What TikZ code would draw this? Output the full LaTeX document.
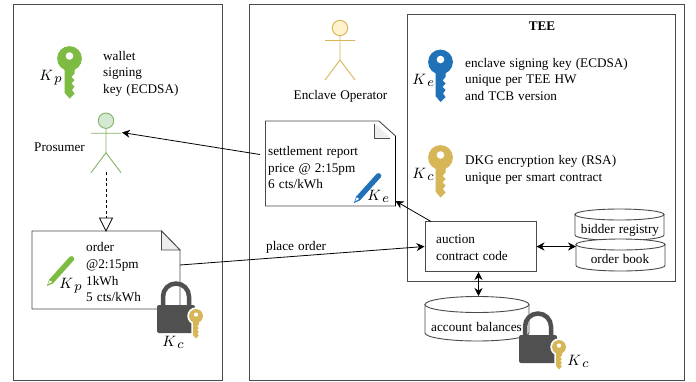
\documentclass[tikz,border=0pt]{standalone}
\usepackage{fontspec}
\setmainfont[WordSpace=1.25]{Liberation Serif}
\usetikzlibrary{arrows.meta,calc}
\definecolor{kgreen}{HTML}{7DBB42}
\definecolor{kblue}{HTML}{1F71B8}
\definecolor{kgold}{HTML}{D6B656}
\definecolor{figgreen}{HTML}{82B366}
\definecolor{figgreenfill}{HTML}{D5E8D4}
\definecolor{figgold}{HTML}{FFF2CC}
\definecolor{boxgray}{HTML}{4A4A4A}
\definecolor{lockgray}{HTML}{505050}
\tikzset{
  panel/.style={draw=boxgray,line width=1pt},
  lbl/.style={anchor=base west,inner sep=0pt,font=\fontsize{13.2}{16.5}\selectfont,align=left},
  ctr/.style={anchor=base,inner sep=0pt,font=\fontsize{13.2}{16.5}\selectfont},
  mathlbl/.style={inner sep=0pt,scale=1.5,anchor=base west},
  docline/.style={draw=boxgray,line width=0.9pt,fill=white},
  conn/.style={draw=black,line width=0.8pt,-{Stealth[length=8pt,width=8pt]}},
  biconn/.style={draw=black,line width=0.8pt,{Stealth[length=8pt,width=8pt]}-{Stealth[length=8pt,width=8pt]}},
}
\newcommand{\ksub}[1]{$K_{\,\scalebox{1.25}{$\scriptstyle #1$}}$}
\newcommand{\keyicon}[4]{%
  \begin{scope}[shift={(#1,#2)},scale=#3]
    \fill[#4] (-5,8) -- (-5,34) -- (0,40) -- (5,35) -- (2.5,31.5) -- (5,28) -- (2,25) -- (5,21.5) -- (2,18.5) -- (5,15) -- (5,8) -- cycle;
    \fill[#4] (0,0) circle[radius=12.4];
    \fill[white] (0,-2.5) circle[radius=3.8];
  \end{scope}}
\newcommand{\keyhalo}[3]{%
  \begin{scope}[shift={(#1,#2)},scale=#3]
    \draw[white,line width=3.5pt,fill=white] (0,0) circle[radius=12.4];
    \draw[white,line width=3.5pt,fill=white] (-5,8) -- (-5,34) -- (0,40) -- (5,35) -- (5,8) -- cycle;
  \end{scope}}
\newcommand{\pencilicon}[3]{%
  \begin{scope}[shift={(#1,#2)},rotate=48]
    \fill[#3] (0,0) -- (6,-2.7) -- (37,-2.7) -- (39,-1.3) -- (39,1.6) -- (37,2.7) -- (6,2.7) -- cycle;
    \fill[white] (2.2,-0.4) -- (6,-1.8) -- (6.5,1.2) -- cycle;
  \end{scope}}
\newcommand{\padlock}[2]{%
  \begin{scope}[shift={(#1,#2)}]
    \draw[lockgray,line width=4.5pt] (-13,28) -- (-13,15.5) arc[start angle=180,end angle=360,radius=13] -- (13,28);
    \fill[lockgray,rounded corners=2pt] (-19,24) rectangle (19,52);
  \end{scope}}
\newcommand{\stickfig}[4]{%
  \begin{scope}[shift={(#1,#2)}]
    \draw[#3,line width=0.9pt,fill=#4] (0,0) circle[radius=7.7];
    \draw[#3,line width=0.9pt] (0,7.7) -- (0,32) (-15,12.5) -- (15,12.5) (-15,52) -- (0,32) -- (15,52);
  \end{scope}}
\newcommand{\cylinder}[6]{%
  \path[docline] (#2,#3) -- (#2,#5)
     arc[start angle=180,end angle=0,x radius={(#4-#2)/2},y radius=#6] -- (#4,#3) -- cycle;
  \path[docline] ({(#2+#4)/2},#3) ellipse[x radius={(#4-#2)/2},y radius=#6];
  \coordinate (#1) at ({(#2+#4)/2},#3);
}
\begin{document}
\begin{tikzpicture}[x=1pt,y=-1pt]
\useasboundingbox (0,0) rectangle (696,381);
\fill[white] (0,0) rectangle (696,381);
% panels
\draw[panel] (13,4) rectangle (222,380);
\draw[panel] (249,4) rectangle (684,380);
\draw[panel] (407.5,14) rectangle (675,281.5);
\node[ctr,font=\fontsize{13.2}{16.5}\selectfont\bfseries] (teetitle) at (542,30) {TEE};

% left keys
\keyicon{69.5}{58.5}{1}{kgreen}
\node[mathlbl] (kp) at (39,80) {\ksub{p}};
\node[lbl] (wallet1) at (103,60) {wallet};
\node[lbl] (wallet2) at (103,76.5) {signing};
\node[lbl] (wallet3) at (103,93) {key (ECDSA)};

% prosumer
\stickfig{106}{120.7}{figgreen}{figgreenfill}
\node[lbl] (prosumer) at (34,151) {Prosumer};
\coordinate (prosarm) at (122,132.5);
\coordinate (prosfoot) at (106,172);

% order document
\path[docline] (32,231) -- (161.5,231) -- (180,250) -- (180,309) -- (32,309) -- cycle;
\path[draw=boxgray,line width=0.8pt,fill=black!7] (161.5,231) -- (161.5,250) -- (180,250) -- cycle;
\coordinate (ordertop) at (106,231);
\coordinate (orderright) at (180,265);
\node[lbl] (o1) at (86,251) {order};
\node[lbl] (o2) at (86,268) {@2:15pm};
\node[lbl] (o3) at (86,285) {1kWh};
\node[lbl] (o4) at (86,301) {5 cts/kWh};
\pencilicon{47}{286}{kgreen}
\node[mathlbl] (kpo) at (59,288) {\ksub{p}};
\padlock{176}{281}
\keyhalo{196}{316}{0.56}
\keyicon{196}{316}{0.56}{kgold}
\node[mathlbl] (kco) at (162,346) {\ksub{c}};

% generalization arrow
\draw[line width=0.8pt,dash pattern=on 3pt off 2.5pt] (prosfoot) -- ($(ordertop)+(0,-13)$);
\draw[line width=0.8pt,fill=white] (ordertop) -- ++(-6.5,-13) -- ++(13,0) -- cycle;

% enclave operator
\stickfig{340}{28}{kgold}{figgold}
\node[ctr] (operator) at (340.5,99) {Enclave Operator};

% settlement document
\path[docline] (265.5,121) -- (379,121) -- (395.5,136) -- (395.5,206) -- (265.5,206) -- cycle;
\fill[black!7] (375,124) -- (375,137.5) -- (390,137.5) -- cycle;
\draw[boxgray,line width=0.8pt] (374,123.5) -- (374,138) -- (389.5,138);
\draw[black,line width=0.8pt] (395.5,136) -- (395.5,206);
\node[lbl] (s1) at (268,155) {settlement report};
\node[lbl] (s2) at (268,172) {price @ 2:15pm};
\node[lbl] (s3) at (268,188) {6 cts/kWh};
\pencilicon{354}{203}{kblue}
\node[mathlbl] (kes) at (367,200.5) {\ksub{e}};
\coordinate (settleleft) at (260,154.5);
\coordinate (settlecorner) at (395.5,201);

% TEE keys
\keyicon{440.5}{62}{1}{kblue}
\node[mathlbl] (ke) at (412,84) {\ksub{e}};
\node[lbl] (e1) at (465,67) {enclave signing key (ECDSA)};
\node[lbl] (e2) at (465,83) {unique per TEE HW};
\node[lbl] (e3) at (465,100) {and TCB version};
\keyicon{440.5}{157.5}{1}{kgold}
\node[mathlbl] (kc) at (412,178) {\ksub{c}};
\node[lbl] (d1) at (465,164) {DKG encryption key (RSA)};
\node[lbl] (d2) at (465,181) {unique per smart contract};

% auction
\node[draw=boxgray,line width=1pt,fill=white,minimum width=111pt,minimum height=49.5pt,inner sep=0pt] (auction) at (480.5,246.5) {};
\node[lbl] (a1) at (436,243) {auction};
\node[lbl] (a2) at (436,260) {contract code};

% databases
\cylinder{bidder}{575}{214.5}{664}{235}{5.5}
\node[ctr] (biddertext) at (620,233) {bidder registry};
\cylinder{orderbook}{576}{244.5}{665}{265.5}{5.5}
\node[ctr] (orderbooktext) at (620,263) {order book};
\cylinder{account}{425}{304.5}{529}{333}{8}
\node[lbl] (accounttext) at (431,331) {account balances};
\padlock{538}{311}
\keyhalo{559}{347}{0.56}
\keyicon{559}{347}{0.56}{kgold}
\node[mathlbl] (kca) at (567,365) {\ksub{c}};

% connectors
\draw[conn] (settleleft) -- (prosarm);
\draw[conn] (orderright) -- (auction.west);
\draw[conn] (431,221.5) -- (settlecorner);
\draw[biconn] (auction.east) -- (576,246.5);
\draw[biconn] (478.5,272) -- (478.5,296);
\node[lbl] (placeorder) at (266,250) {place order};
\end{tikzpicture}
\end{document}
